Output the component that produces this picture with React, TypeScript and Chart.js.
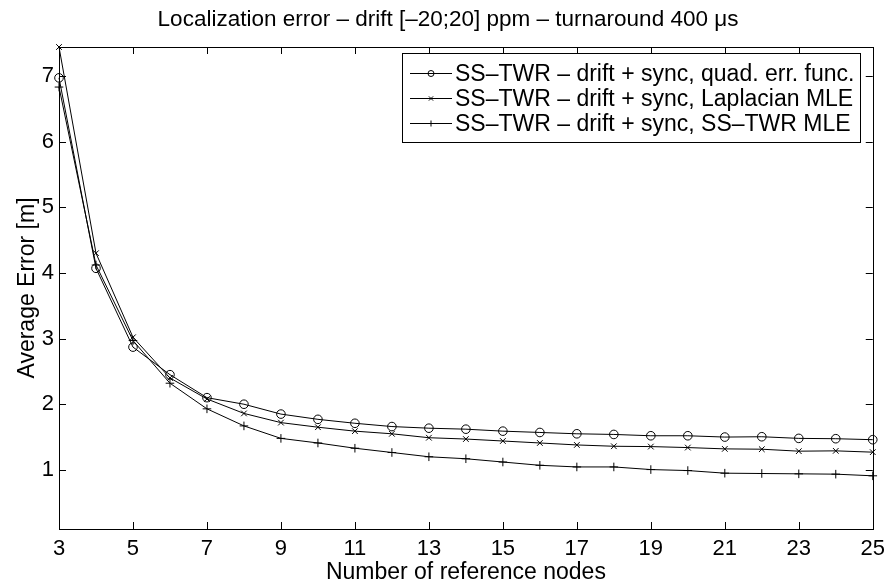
import React, { useEffect, useRef } from "react";
import { Chart, registerables } from "chart.js";

Chart.register(...registerables);

const TITLE = "Localization error \u2013 drift [\u201320;20] ppm \u2013 turnaround 400 \u03bcs";
const X_LABEL = "Number of reference nodes";
const Y_LABEL = "Average Error [m]";

const nodes = [3, 4, 5, 6, 7, 8, 9, 10, 11, 12, 13, 14, 15, 16, 17, 18, 19, 20, 21, 22, 23, 24, 25];
const xTicks = [3, 5, 7, 9, 11, 13, 15, 17, 19, 21, 23, 25];
const yTicks = [1, 2, 3, 4, 5, 6, 7];

const seriesLabels = [
  "SS\u2013TWR \u2013 drift + sync, quad. err. func.",
  "SS\u2013TWR \u2013 drift + sync, Laplacian MLE",
  "SS\u2013TWR \u2013 drift + sync, SS\u2013TWR MLE",
];

const quadErr = [6.97, 4.07, 2.87, 2.45, 2.10, 2.00, 1.85, 1.77, 1.71, 1.66, 1.635, 1.62, 1.59, 1.57, 1.55, 1.54, 1.52, 1.52, 1.50, 1.505, 1.48, 1.475, 1.46];
const laplacianMle = [7.44, 4.30, 3.02, 2.40, 2.08, 1.86, 1.72, 1.65, 1.59, 1.55, 1.49, 1.47, 1.44, 1.41, 1.38, 1.36, 1.355, 1.34, 1.32, 1.315, 1.285, 1.29, 1.27];
const sstwrMle = [6.83, 4.12, 2.97, 2.32, 1.93, 1.67, 1.48, 1.41, 1.33, 1.265, 1.20, 1.17, 1.12, 1.07, 1.045, 1.045, 1.005, 0.99, 0.95, 0.945, 0.94, 0.935, 0.91];

const FONT = "'Liberation Sans', Arial, Helvetica, sans-serif";

const styles = [
  { pointStyle: "circle", radius: 4.3 },
  { pointStyle: "crossRot", radius: 4 },
  { pointStyle: "cross", radius: 4.3 },
];

function drawMarker(ctx: CanvasRenderingContext2D, style: string, x: number, y: number, r: number) {
  ctx.beginPath();
  if (style === "circle") {
    ctx.arc(x, y, r, 0, Math.PI * 2);
  } else if (style === "crossRot") {
    const d = r * Math.SQRT1_2;
    ctx.moveTo(x - d, y - d);
    ctx.lineTo(x + d, y + d);
    ctx.moveTo(x - d, y + d);
    ctx.lineTo(x + d, y - d);
  } else {
    ctx.moveTo(x - r, y);
    ctx.lineTo(x + r, y);
    ctx.moveTo(x, y - r);
    ctx.lineTo(x, y + r);
  }
  ctx.stroke();
}

const framePlugin = {
  id: "matlabFrame",
  afterDraw(chart: any) {
    const ctx: CanvasRenderingContext2D = chart.ctx;
    const { left, right, top, bottom } = chart.chartArea;
    const xs = chart.scales.x;
    const ys = chart.scales.y;
    ctx.save();
    ctx.strokeStyle = "#000";
    ctx.lineWidth = 1;
    ctx.strokeRect(Math.round(left) + 0.5, Math.round(top) + 0.5, Math.round(right - left), Math.round(bottom - top));
    const tl = 7;
    ctx.beginPath();
    for (const v of xTicks) {
      const px = Math.round(xs.getPixelForValue(v)) + 0.5;
      ctx.moveTo(px, bottom);
      ctx.lineTo(px, bottom - tl);
      ctx.moveTo(px, top);
      ctx.lineTo(px, top + tl);
    }
    for (const v of yTicks) {
      const py = Math.round(ys.getPixelForValue(v)) + 0.5;
      ctx.moveTo(left, py);
      ctx.lineTo(left + tl, py);
      ctx.moveTo(right, py);
      ctx.lineTo(right - tl, py);
    }
    ctx.stroke();

    ctx.fillStyle = "#000";
    ctx.font = `22.5px ${FONT}`;
    ctx.textAlign = "center";
    ctx.textBaseline = "alphabetic";
    ctx.fillText(TITLE, chart.width / 2 + 2, 26);

    const lx = 402, ly = 53, lw = 458, lh = 89;
    ctx.fillStyle = "#fff";
    ctx.fillRect(lx, ly, lw, lh);
    ctx.strokeRect(lx + 0.5, ly + 0.5, lw, lh);
    ctx.font = `23px ${FONT}`;
    ctx.textAlign = "left";
    ctx.textBaseline = "middle";
    chart.data.datasets.forEach((ds: any, i: number) => {
      const ry = Math.round(ly + 20 + i * 25) + 0.5;
      ctx.beginPath();
      ctx.moveTo(410, ry);
      ctx.lineTo(452, ry);
      ctx.stroke();
      drawMarker(ctx, ds.pointStyle, 431, ry, 3);
      ctx.fillStyle = "#000";
      ctx.fillText(ds.label, 455, ry + 1);
    });
    ctx.restore();
  },
};

export default function App() {
  const ref = useRef<HTMLCanvasElement | null>(null);
  useEffect(() => {
    document.body.style.margin = "0";
    if (!ref.current) return;
    const seriesData = [quadErr, laplacianMle, sstwrMle];
    const chart = new Chart(ref.current, {
      type: "line",
      data: {
        datasets: seriesData.map((arr, i) => ({
          label: seriesLabels[i],
          data: arr.map((v, j) => ({ x: nodes[j], y: v })),
          borderColor: "#000",
          borderWidth: 1,
          backgroundColor: "rgba(0,0,0,0)",
          pointStyle: styles[i].pointStyle as any,
          pointRadius: styles[i].radius,
          pointBorderColor: "#000",
          pointBorderWidth: 1,
          pointBackgroundColor: "rgba(0,0,0,0)",
          tension: 0,
          fill: false,
          clip: false as any,
        })),
      },
      options: {
        animation: false,
        responsive: false,
        events: [],
        layout: { padding: { left: 0, right: 16, top: 47, bottom: 0 } },
        plugins: {
          legend: { display: false },
          title: { display: false },
          tooltip: { enabled: false },
        },
        scales: {
          x: {
            type: "linear",
            min: 3,
            max: 25,
            afterBuildTicks: (s: any) => {
              s.ticks = xTicks.map((v) => ({ value: v }));
            },
            afterFit: (s: any) => {
              s.height = 57;
            },
            grid: { display: false, drawTicks: false },
            border: { display: false },
            ticks: {
              color: "#000",
              font: { family: FONT, size: 22 },
              padding: 7,
              maxRotation: 0,
              autoSkip: false,
            },
            title: {
              display: true,
              text: X_LABEL,
              color: "#000",
              font: { family: FONT, size: 23 },
              padding: { top: 0, bottom: 0 },
            },
          },
          y: {
            type: "linear",
            min: 0.1,
            max: 7.44,
            afterBuildTicks: (s: any) => {
              s.ticks = yTicks.map((v) => ({ value: v }));
            },
            afterFit: (s: any) => {
              s.width = 59;
            },
            grid: { display: false, drawTicks: false },
            border: { display: false },
            ticks: {
              color: "#000",
              font: { family: FONT, size: 22 },
              padding: 5,
            },
            title: {
              display: true,
              text: Y_LABEL,
              color: "#000",
              font: { family: FONT, size: 23 },
              padding: { top: 14, bottom: 0 },
            },
          },
        },
      },
      plugins: [framePlugin],
    });
    return () => chart.destroy();
  }, []);
  return (
    <div style={{ position: "absolute", left: 0, top: 0, width: 892, height: 586, background: "#fff" }}>
      <canvas ref={ref} width={892} height={586} style={{ width: 892, height: 586 }} />
    </div>
  );
}
